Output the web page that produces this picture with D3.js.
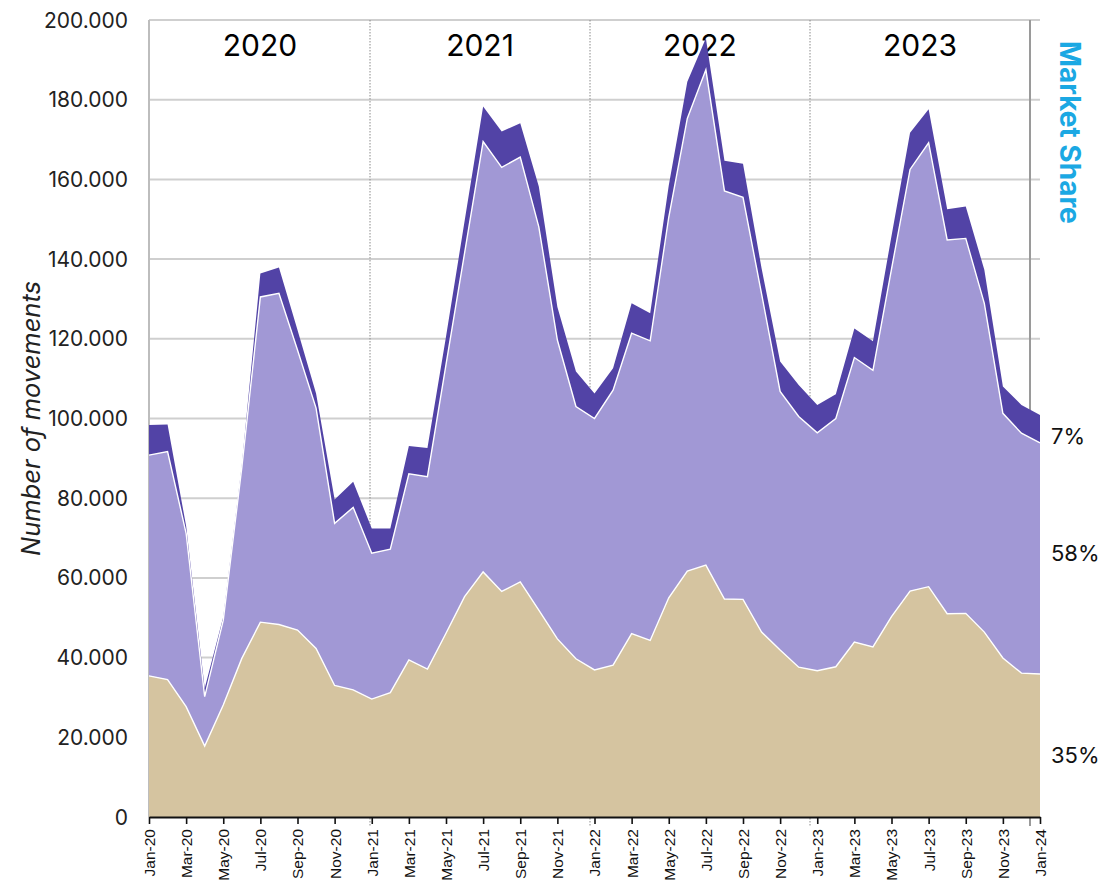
<!DOCTYPE html>
<html>
<head>
<meta charset="utf-8">
<script src="https://cdn.jsdelivr.net/npm/d3@7"></script>
<style>
  body { margin: 0; background: #fff; }
  svg { display: block; }
</style>
</head>
<body>
<svg id="chart" width="1115" height="894"></svg>
<script>
// ---- categories ----
const monthNames = ["Jan", "Feb", "Mar", "Apr", "May", "Jun", "Jul", "Aug", "Sep", "Oct", "Nov", "Dec"];
const yearSuffixes = ["20", "21", "22", "23"];
const months = yearSuffixes.flatMap(y => monthNames.map(m => `${m}-${y}`)).concat(["Jan-24"]);
const years = ["2020", "2021", "2022", "2023"];

// ---- series values (number of movements per month) ----
const baseSegment = [
  35400, 34500, 27700, 17800, 28100, 39800, 48900, 48300, 46900, 42300, 33000, 31900,
  29600, 31200, 39400, 37100, 46100, 55300, 61500, 56600, 59000, 51900, 44700, 39700,
  36900, 38100, 46000, 44300, 55000, 61700, 63200, 54700, 54600, 46400, 41900, 37600,
  36700, 37700, 43900, 42700, 50300, 56700, 57800, 51000, 51100, 46400, 39900, 36100,
  35900
];
const mainSegment = [
  55400, 57200, 43500, 12400, 21300, 47900, 81600, 83100, 70300, 60300, 40700, 45800,
  36600, 36000, 46700, 48300, 67400, 86200, 108000, 106400, 106600, 96200, 75000, 63300,
  63100, 69000, 75400, 75200, 95500, 113600, 124300, 102400, 100900, 84900, 64900, 62900,
  59700, 62300, 71400, 69400, 87200, 105800, 111400, 93800, 94100, 82500, 61400, 60200,
  58000
];
const topSegment = [
  7600, 6800, 1800, 2100, 800, 700, 5900, 6500, 5000, 3700, 6000, 6400,
  6200, 5200, 7000, 7200, 7000, 8000, 8800, 9000, 8500, 10100, 8300, 8800,
  6300, 5500, 7500, 6900, 8000, 9200, 7900, 7600, 8400, 6400, 7500, 7900,
  7000, 6100, 7300, 7300, 8300, 9200, 8400, 7700, 8000, 8400, 6700, 7100,
  7000
];
const shareLabels = ["35%", "58%", "7%"];
const shareLabelNudge = [10, -5, 7];   // px shift of each share label from its band centre

// ---- y axis ticks ----
const yTicks = [0, 20000, 40000, 60000, 80000, 100000, 120000, 140000, 160000, 180000, 200000];

// ---- layout ----
const plotLeft = 149, plotRight = 1040, plotTop = 20, plotBottom = 817;
const yearSpanEnd = 1030;

const colors = { base: "#d5c4a0", main: "#a198d5", top: "#5243a6" };

const svg = d3.select("#chart");

const x = d3.scalePoint().domain(months).range([plotLeft, plotRight]);
const y = d3.scaleLinear().domain([0, 200000]).range([plotBottom, plotTop]);
const yearBand = d3.scaleBand().domain(years).range([plotLeft + 1, yearSpanEnd]);

const fmt = d3.formatLocale({ decimal: ",", thousands: ".", grouping: [3], currency: ["", ""] }).format(",");

// gridlines
svg.append("g").selectAll("line").data(yTicks).join("line")
  .attr("x1", plotLeft).attr("x2", plotRight)
  .attr("y1", d => y(d)).attr("y2", d => y(d))
  .attr("stroke", "#cfcfcf").attr("stroke-width", 2);

// left border
svg.append("line")
  .attr("x1", plotLeft).attr("x2", plotLeft).attr("y1", plotTop).attr("y2", plotBottom)
  .attr("stroke", "#bdbdbd").attr("stroke-width", 2);

// year separators
svg.append("g").selectAll("line").data(years.slice(1)).join("line")
  .attr("x1", d => yearBand(d)).attr("x2", d => yearBand(d))
  .attr("y1", plotTop).attr("y2", plotBottom + 9)
  .attr("stroke", "#8a8a8a").attr("stroke-width", 1).attr("stroke-dasharray", "1.5,1.5");
svg.append("line")
  .attr("x1", yearSpanEnd).attr("x2", yearSpanEnd).attr("y1", plotTop).attr("y2", plotBottom + 9)
  .attr("stroke", "#9a9a9a").attr("stroke-width", 2);

// year labels (behind the areas)
svg.append("g").selectAll("text").data(years).join("text")
  .attr("x", d => yearBand(d) + yearBand.bandwidth() / 2)
  .attr("y", 56)
  .attr("text-anchor", "middle")
  .attr("fill", "#000")
  .style("font-family", "Inter, 'Liberation Sans', sans-serif")
  .style("font-size", "30px")
  .text(d => d);

// stacked areas
const table = months.map((m, i) => ({ month: m, base: baseSegment[i], main: mainSegment[i], top: topSegment[i] }));
const stack = d3.stack().keys(["base", "main", "top"]);
const layers = stack(table);

const area = d3.area()
  .x(d => x(d.data.month))
  .y0(d => y(d[0]))
  .y1(d => y(d[1]));
const edge = d3.line()
  .x(d => x(d.data.month))
  .y(d => y(d[1]));

const g = svg.append("g");
g.selectAll("path.layer").data(layers).join("path")
  .attr("class", "layer")
  .attr("d", area)
  .attr("fill", d => colors[d.key]);
g.selectAll("path.edge").data(layers.slice(0, 2)).join("path")
  .attr("class", "edge")
  .attr("d", edge)
  .attr("fill", "none")
  .attr("stroke", "#ffffff")
  .attr("stroke-width", 1.4)
  .attr("stroke-linejoin", "miter");

// x axis
const xAxis = d3.axisBottom(x)
  .tickValues(months.filter((d, i) => i % 2 === 0))
  .tickSize(7)
  .tickSizeOuter(0);
const xg = svg.append("g").attr("transform", `translate(0,${plotBottom})`).call(xAxis);
xg.select(".domain").attr("stroke", "#111").attr("stroke-width", 2.2);
xg.selectAll(".tick line").attr("stroke", "#111").attr("stroke-width", 1.6);
xg.selectAll(".tick text")
  .attr("transform", "rotate(-90)")
  .attr("text-anchor", "end")
  .attr("x", -12)
  .attr("y", 0)
  .attr("dy", "0.35em")
  .attr("fill", "#111")
  .style("font-family", "'Liberation Sans', Arial, sans-serif")
  .style("font-size", "15.5px");

// y tick labels
svg.append("g").selectAll("text").data(yTicks).join("text")
  .attr("x", 128)
  .attr("y", d => y(d))
  .attr("dy", "0.36em")
  .attr("text-anchor", "end")
  .attr("fill", "#222")
  .style("font-family", "Inter, 'Liberation Sans', sans-serif")
  .style("font-size", "21px")
  .text(d => fmt(d));

// y axis title
svg.append("text")
  .attr("transform", `translate(40,${(plotTop + plotBottom) / 2}) rotate(-90)`)
  .attr("text-anchor", "middle")
  .attr("fill", "#222")
  .style("font-family", "Inter, 'Liberation Sans', sans-serif")
  .style("font-style", "italic")
  .style("font-size", "25.5px")
  .text("Number of movements");

// side title
svg.append("text")
  .attr("transform", `translate(1060,41) rotate(90)`)
  .attr("text-anchor", "start")
  .attr("fill", "#1ba8e3")
  .style("font-family", "Inter, 'Liberation Sans', sans-serif")
  .style("font-weight", "700")
  .style("font-size", "28px")
  .text("Market Share");

// share labels at the last month, centred on each band
const last = layers.map(l => l[l.length - 1]);
svg.append("g").selectAll("text").data(last).join("text")
  .attr("x", plotRight + 11)
  .attr("y", (d, i) => y((d[0] + d[1]) / 2) + shareLabelNudge[i])
  .attr("dy", "0.36em")
  .attr("text-anchor", "start")
  .attr("fill", "#111")
  .style("font-family", "Inter, 'Liberation Sans', sans-serif")
  .style("font-size", "22px")
  .text((d, i) => shareLabels[i]);
</script>
</body>
</html>
